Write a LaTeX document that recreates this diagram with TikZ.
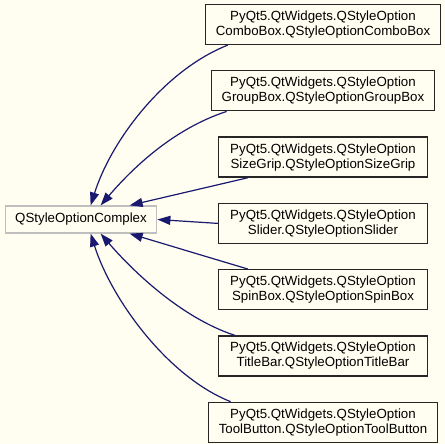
\documentclass[tikz,border=0pt]{standalone}
\usepackage{fontspec}
\setmainfont{Liberation Sans}
\usetikzlibrary{arrows.meta,positioning}
\definecolor{edgeblue}{RGB}{25,25,112}
\definecolor{basegray}{RGB}{191,191,191}

\begin{document}
\begin{tikzpicture}[
      cls/.style   = {rectangle, draw=black!85, line width=1.3pt,
                      minimum width=209pt, minimum height=40pt,
                      inner xsep=10.5pt, align=center,
                      font=\fontsize{13.3}{15}\selectfont},
      basecls/.style = {rectangle, draw=basegray, line width=1.2pt,
                      minimum height=27pt, inner xsep=10pt,
                      font=\fontsize{13.3}{15}\selectfont},
      inh/.style  = {-{Triangle[length=13pt, width=9pt]}, draw=edgeblue, line width=1.2pt}
    ]
    \fill[yellow!6] (0pt,0pt) rectangle (445pt,-444pt);
    \useasboundingbox (0pt,0pt) rectangle (445pt,-444pt);

    \node[basecls] (base) at (81pt,-219.5pt) {QStyleOptionComplex};

    \node[cls] (combo) at (323pt,-24.5pt) {PyQt5.QtWidgets.QStyleOption\\ComboBox.QStyleOptionComboBox};
    \node[cls, below=25pt of combo]    (group)  {PyQt5.QtWidgets.QStyleOption\\GroupBox.QStyleOptionGroupBox};
    \node[cls, below=25pt of group]    (grip)   {PyQt5.QtWidgets.QStyleOption\\SizeGrip.QStyleOptionSizeGrip};
    \node[cls, below=25pt of grip]     (slider) {PyQt5.QtWidgets.QStyleOption\\Slider.QStyleOptionSlider};
    \node[cls, below=25pt of slider]   (spin)   {PyQt5.QtWidgets.QStyleOption\\SpinBox.QStyleOptionSpinBox};
    \node[cls, below=25pt of spin]     (title)  {PyQt5.QtWidgets.QStyleOption\\TitleBar.QStyleOptionTitleBar};
    \node[cls, below=25pt of title]    (tool)   {PyQt5.QtWidgets.QStyleOption\\ToolButton.QStyleOptionToolButton};

    % upper edges
    \draw[inh] ([xshift=23pt]combo.south west) .. controls +(-63pt,-25pt) and +(21pt,66pt) .. ([xshift=86pt]base.north west);
    \draw[inh] ([xshift=16pt]group.south west) .. controls +(-55pt,-18pt) and +(30pt,35pt) .. ([xshift=96pt]base.north west);
    \draw[inh] ([xshift=30pt]grip.south west) -- ([xshift=125pt]base.north west);
    \draw[inh] (slider.west) -- (base.east);
    % lower edges
    \draw[inh] ([xshift=30pt]spin.north west) -- ([xshift=125pt]base.south west);
    \draw[inh] ([xshift=17pt]title.north west) .. controls +(-55pt,18pt) and +(30pt,-35pt) .. ([xshift=96pt]base.south west);
    \draw[inh] ([xshift=23pt]tool.north west) .. controls +(-63pt,25pt) and +(21pt,-66pt) .. ([xshift=86pt]base.south west);
  \end{tikzpicture}
\end{document}
